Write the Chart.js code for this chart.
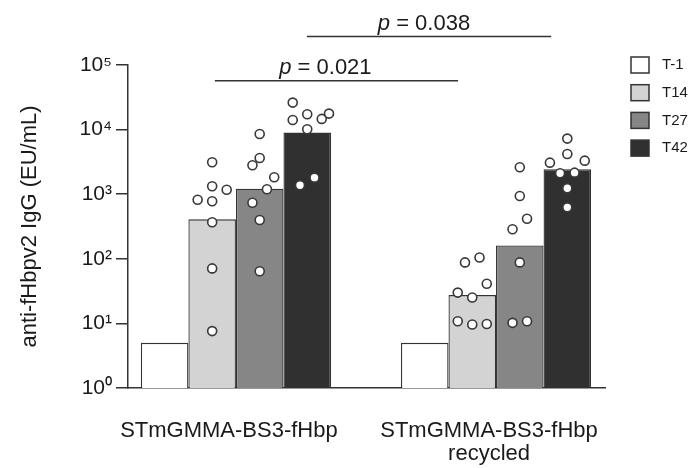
<!DOCTYPE html>
<html>
<head>
<meta charset="utf-8">
<script src="https://cdn.jsdelivr.net/npm/chart.js@4.4.1/dist/chart.umd.min.js"></script>
<style>
  html, body { margin: 0; padding: 0; background: #fff; }
  #wrap { width: 691px; height: 468px; position: relative; }
</style>
</head>
<body>
<div id="wrap"><canvas id="chart"></canvas></div>
<script>
const groups = ['STmGMMA-BS3-fHbp', ['STmGMMA-BS3-fHbp', 'recycled']];
const timepoints = ['T-1', 'T14', 'T27', 'T42'];
const yTicks = [1, 10, 100, 1000, 10000, 100000];

// bar heights per group
const barT1 = [5, 5];
const barT14 = [408, 27.4];
const barT27 = [1217, 161];
const barT42 = [8980, 2430];

// single animals, [group 1, group 2]
const ptsT14 = [[3120, 1325, 1175, 822, 776, 367, 71, 7.6], [88, 105, 41, 30, 25.2, 10.8, 9.6, 9.8]];
const ptsT27 = [[8570, 3640, 2806, 1828, 1191, 738, 398, 64], [2614, 938, 417, 286, 88, 10.2, 10.8]];
const ptsT42 = [[26200, 17300, 14100, 14650, 17700, 10150, 1374, 1803], [7250, 4200, 3080, 3305, 2110, 2155, 1234, 626]];
// side-step of each dot so they don't overlap
const jitT14 = [[0, 0, 2, -2, 0, 0, 0, 0], [-1, 1, 2, -2, 0, -2, 0, 2]];
const jitT27 = [[0, 0, -1, 2, 1, -1, 0, 0], [0, 0, 1, -1, 0, -1, 1]];
const jitT42 = [[-2, 0, -2, 2, 3, 0, -1, 1], [0, 0, -2.4, 2.4, -1, 1, 0, 0]];

const pValues = ['0.021', '0.038'];

const FONT = '"Liberation Sans", Arial, sans-serif';
const TEXT = '#1a1a1a';
const EDGE = '#333333';
const colors = ['#ffffff', '#d3d3d3', '#868686', '#303030'];
const CAT_PCT = 0.731;
const SLOT = 0.0279;
const SUP = ['\u2070', '\u00b9', '\u00b2', '\u00b3', '\u2074', '\u2075'];

// comparison brackets, x in group units, level in EU/mL
const brackets = [
  { from: 0.919, to: 1.854, level: 56900, textAt: 1.344 },
  { from: 1.273, to: 2.212, level: 276000, textAt: 1.723 }
];

function barOffset(k) { return (k - 1.5) * CAT_PCT / 4; }
function barData(vals) { return vals.map((v, g) => ({ x: g + 1, y: v })); }
function dots(pts, jit, k) {
  return pts.flatMap((arr, g) => arr.map((v, i) => ({ x: g + 1 + barOffset(k) + jit[g][i] * SLOT, y: v })));
}

const barSets = [barT1, barT14, barT27, barT42].map((vals, k) => ({
  type: 'bar', label: timepoints[k], data: barData(vals),
  backgroundColor: colors[k], borderColor: EDGE, borderWidth: 1.3,
  categoryPercentage: CAT_PCT, barPercentage: 1, order: 1
}));
const dotSets = [[ptsT14, jitT14, 1], [ptsT27, jitT27, 2], [ptsT42, jitT42, 3]].map(([p, j, k]) => ({
  type: 'scatter', label: timepoints[k] + ' animals', data: dots(p, j, k),
  backgroundColor: '#ffffff', borderColor: '#383838', borderWidth: 1.6,
  pointRadius: 4.5, order: 0
}));

const sideLegend = {
  id: 'sideLegend',
  afterDraw(chart) {
    const ctx = chart.ctx;
    ctx.save();
    ctx.font = '15px ' + FONT;
    ctx.textBaseline = 'middle';
    timepoints.forEach((t, i) => {
      const y = 65 + i * 27.7;
      ctx.fillStyle = colors[i];
      ctx.fillRect(631, y - 8, 18, 16);
      ctx.strokeStyle = EDGE; ctx.lineWidth = 1.5;
      ctx.strokeRect(631, y - 8, 18, 16);
      ctx.fillStyle = TEXT;
      ctx.fillText(t, 662, y);
    });
    ctx.restore();
  }
};

const sigBars = {
  id: 'sigBars',
  afterDraw(chart) {
    const { ctx, scales: { x, y } } = chart;
    ctx.save();
    ctx.strokeStyle = EDGE; ctx.lineWidth = 1.5;
    ctx.fillStyle = TEXT;
    ctx.textBaseline = 'alphabetic';
    brackets.forEach((b, i) => {
      const py = y.getPixelForValue(b.level);
      ctx.beginPath();
      ctx.moveTo(x.getPixelForValue(b.from), py);
      ctx.lineTo(x.getPixelForValue(b.to), py);
      ctx.stroke();
      const rest = ' = ' + pValues[i];
      ctx.font = 'italic 22px ' + FONT;
      const wp = ctx.measureText('p').width;
      ctx.font = '22px ' + FONT;
      const wr = ctx.measureText(rest).width;
      let tx = x.getPixelForValue(b.textAt) - (wp + wr) / 2;
      ctx.font = 'italic 22px ' + FONT;
      ctx.fillText('p', tx, py - 7);
      ctx.font = '22px ' + FONT;
      ctx.fillText(rest, tx + wp, py - 7);
    });
    ctx.restore();
  }
};

new Chart(document.getElementById('chart'), {
  type: 'bar',
  data: { datasets: [...barSets, ...dotSets] },
  plugins: [sideLegend, sigBars],
  options: {
    responsive: true,
    maintainAspectRatio: false,
    animation: false,
    layout: { padding: { top: 65, right: 86, bottom: 0, left: 0 } },
    plugins: { legend: { display: false }, tooltip: { enabled: false } },
    scales: {
      x: {
        type: 'linear', min: 0.585, max: 2.419, offset: false,
        afterBuildTicks: s => { s.ticks = [{ value: 1 }, { value: 2 }]; },
        afterFit: s => { s.height = 80; },
        grid: { display: false },
        border: { color: EDGE, width: 1.5 },
        ticks: {
          callback: v => groups[v - 1],
          font: { family: FONT, size: 22, lineHeight: 1.06 },
          color: TEXT, padding: 23, labelOffset: -7, maxRotation: 0, autoSkip: false
        }
      },
      y: {
        type: 'logarithmic', min: 1, max: 100000,
        afterBuildTicks: s => { s.ticks = yTicks.map(v => ({ value: v })); },
        afterFit: s => { s.width = 128; },
        grid: { drawOnChartArea: false, tickLength: 12, color: EDGE, lineWidth: 1.5 },
        border: { color: EDGE, width: 1.5 },
        ticks: {
          callback: v => '10' + SUP[Math.round(Math.log10(v))],
          font: { family: FONT, size: 21 }, color: TEXT, padding: 4
        },
        title: {
          display: true, text: 'anti-fHbpv2 IgG (EU/mL)',
          font: { family: FONT, size: 22 }, color: TEXT, padding: { top: 17, bottom: 0 }
        }
      }
    }
  }
});
</script>
</body>
</html>
